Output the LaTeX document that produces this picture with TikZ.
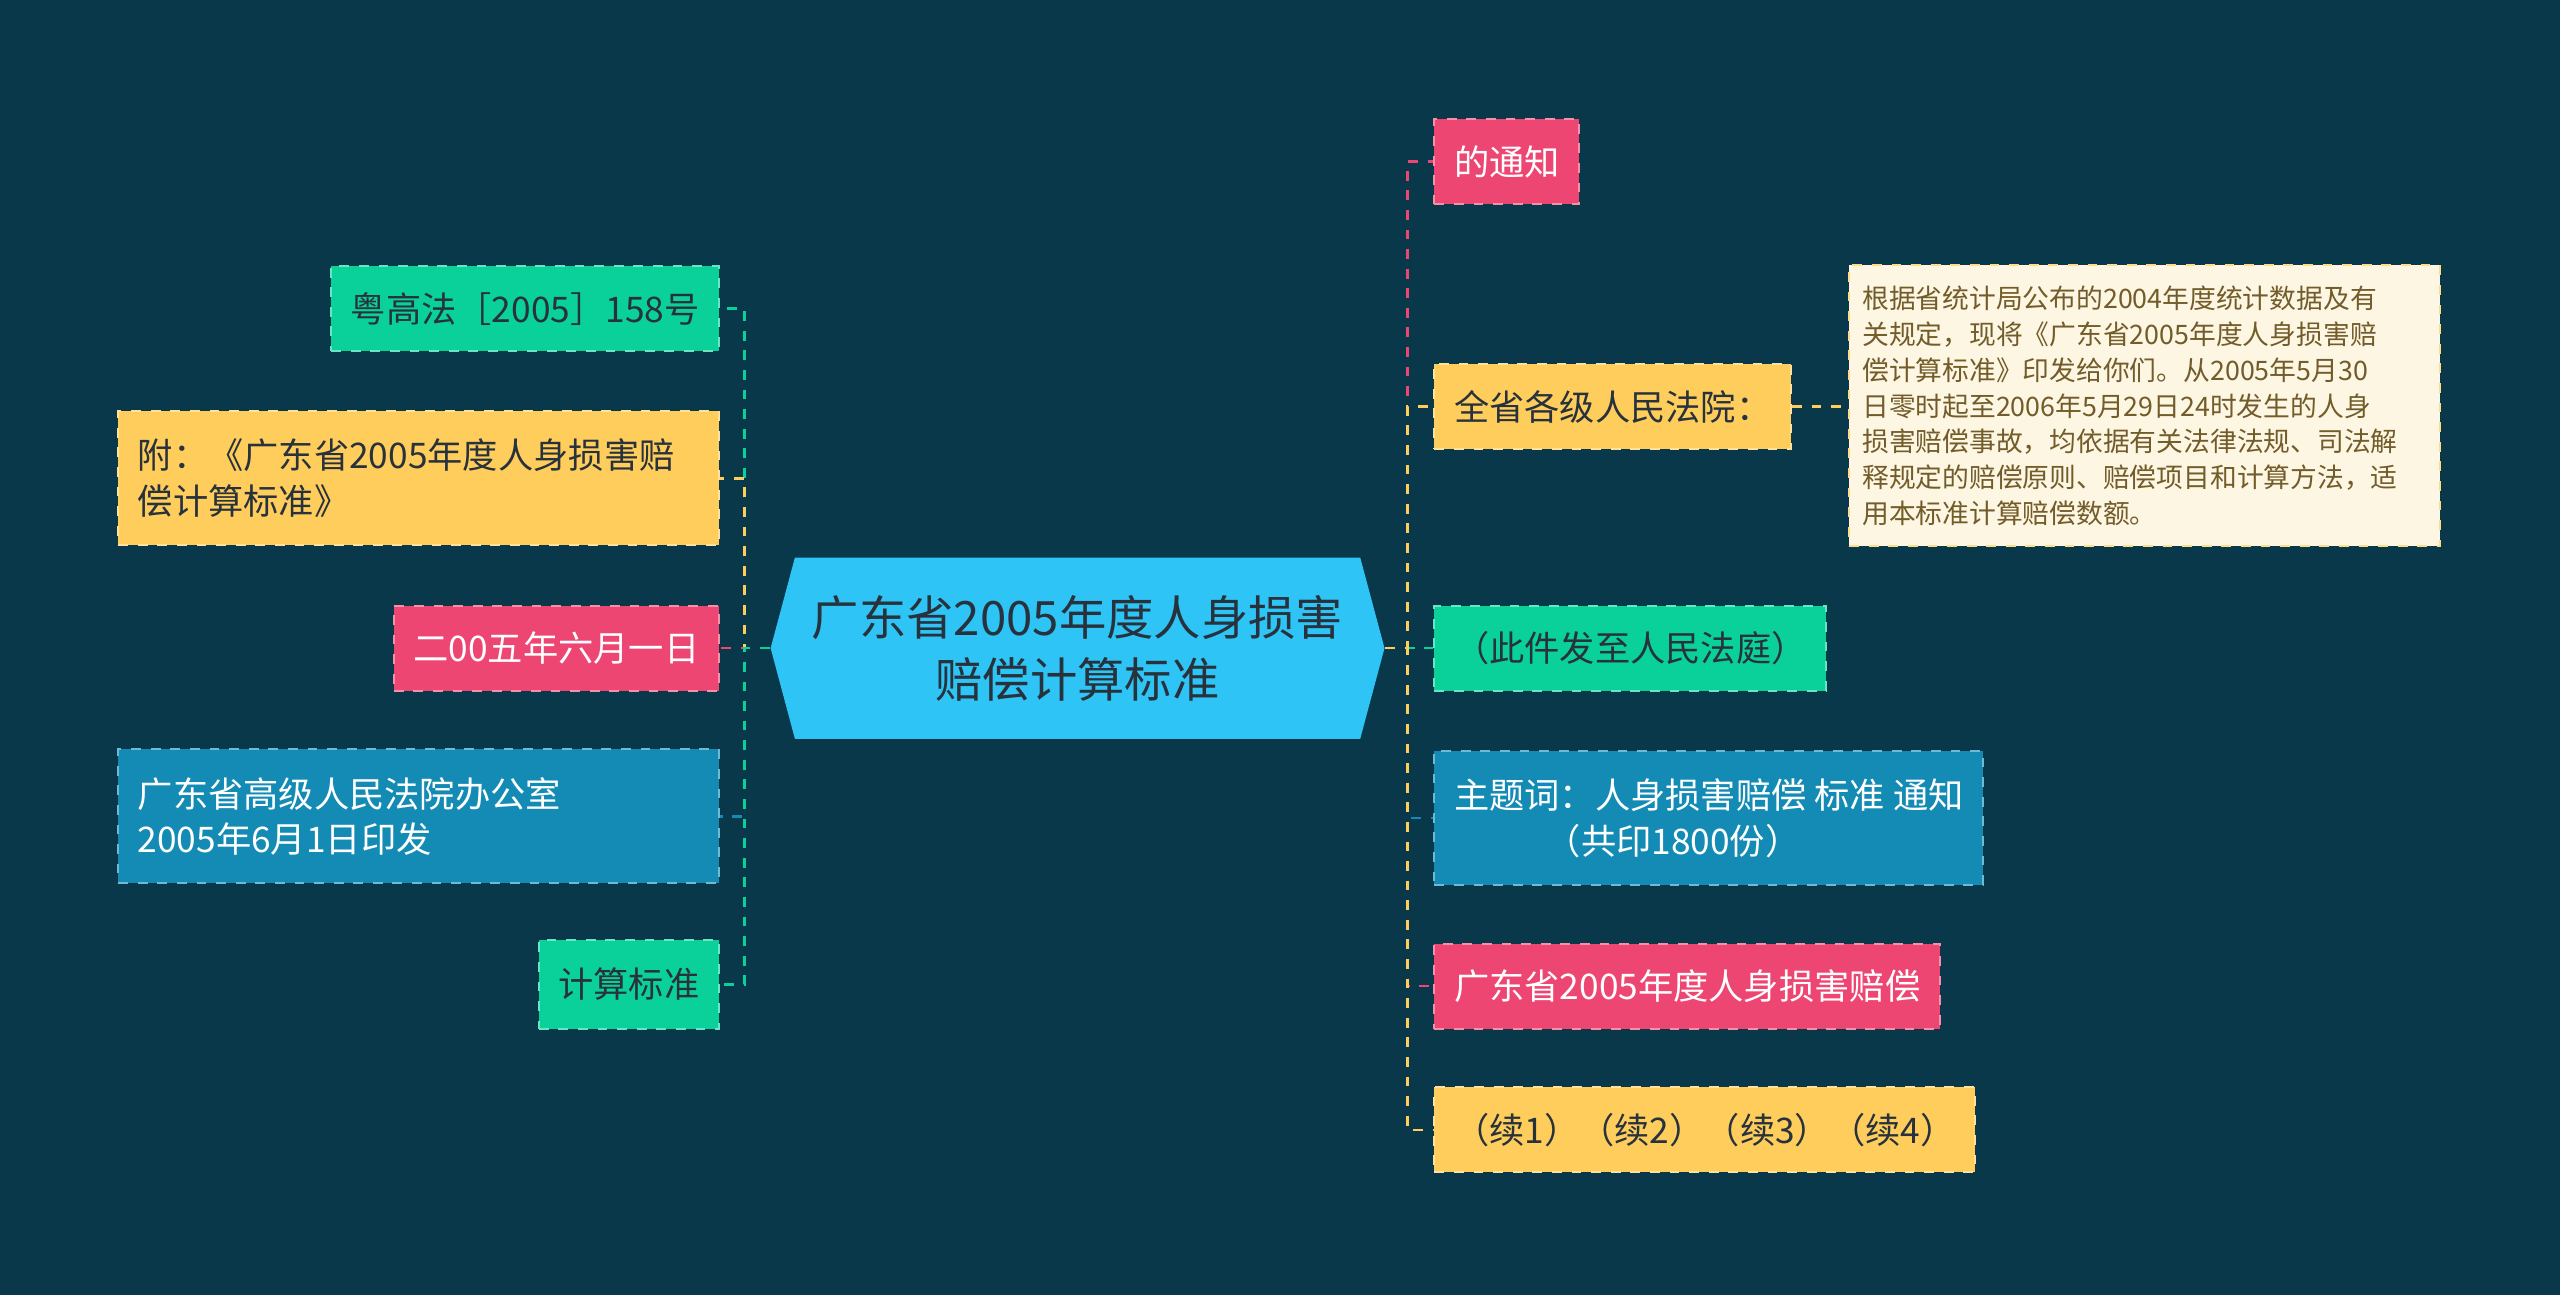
\documentclass[tikz,border=0pt]{standalone}
\usepackage{fontspec}
\setmainfont{Noto Sans CJK SC}
\usetikzlibrary{shapes.symbols}
\definecolor{bg}{RGB}{8,56,74}
\definecolor{cg}{RGB}{10,209,154}
\definecolor{cp}{RGB}{238,70,114}
\definecolor{cy}{RGB}{254,205,92}
\definecolor{cb}{RGB}{19,139,181}
\definecolor{cc}{RGB}{46,196,245}
\definecolor{cn}{RGB}{253,246,227}
\definecolor{tx}{RGB}{40,50,60}
\begin{document}
\begin{tikzpicture}[x=0.5pt,y=-0.5pt,
 box/.style={draw,dashed,line width=0.6pt,inner xsep=6pt,font=\fontsize{10.8}{14}\selectfont,align=left},
 gbox/.style={box,fill=cg,draw=cg!60!white,text=tx},
 pbox/.style={box,fill=cp,draw=cp!60!white,text=white},
 ybox/.style={box,fill=cy,draw=cy!60!white,text=tx},
 bbox/.style={box,fill=cb,draw=cb!60!white,text=white},
 lk/.style={dashed,line width=0.8pt}]
\fill[bg] (0,0) rectangle (1568,793);
\node[signal,signal to=west and east,signal pointer angle=150,fill=cc,text=tx,minimum width=376*0.5pt,minimum height=111*0.5pt,inner sep=2pt,align=center,font=\fontsize{14.5}{19}\selectfont] (c) at (660,397) {广东省2005年度人身损害\\赔偿计算标准};
% left
\node[gbox,anchor=east,minimum height=26pt] (l1) at (441,189) {粤高法［2005］158号};
\node[ybox,anchor=east,minimum height=41pt,text width=172pt] (l2) at (441,293) {附：《广东省2005年度人身损害赔\\偿计算标准》};
\node[pbox,anchor=east,minimum height=26pt] (l3) at (441,397) {二00五年六月一日};
\node[bbox,anchor=east,minimum height=41pt,text width=172pt] (l4) at (441,500) {广东省高级人民法院办公室\\2005年6月1日印发};
\node[gbox,anchor=east,minimum height=27pt] (l5) at (441,603) {计算标准};
% right
\node[pbox,anchor=west,minimum height=26pt] (r1) at (878,99) {的通知};
\node[ybox,anchor=west,minimum height=26pt] (r2) at (878,249) {全省各级人民法院：};
\node[gbox,anchor=west,minimum height=26pt] (r3) at (878,397) {（此件发至人民法庭）};
\node[bbox,anchor=west,minimum height=41pt] (r4) at (878,501) {主题词：人身损害赔偿 标准 通知\\\hspace*{2.6em}（共印1800份）};
\node[pbox,anchor=west,minimum height=26pt] (r5) at (878,604) {广东省2005年度人身损害赔偿};
\node[ybox,anchor=west,minimum height=26pt] (r6) at (878,692) {（续1）（续2）（续3）（续4）};
\node[box,fill=cn,draw=cy!70!white,text=cy!45!black,anchor=north west,font=\fontsize{8.2}{11}\selectfont,inner xsep=4pt,inner ysep=4pt,text width=173pt,minimum height=86pt] (n) at (1132,162) {根据省统计局公布的2004年度统计数据及有\\关规定，现将《广东省2005年度人身损害赔\\偿计算标准》印发给你们。从2005年5月30\\日零时起至2006年5月29日24时发生的人身\\损害赔偿事故，均依据有关法律法规、司法解\\释规定的赔偿原则、赔偿项目和计算方法，适\\用本标准计算赔偿数额。};
% links
\foreach \n/\col in {l1/cg,l2/cy,l3/cp,l4/cb,l5/cg}
 \draw[lk,\col] (c.west) -- (456,397) |- (\n.east);
\foreach \n/\col in {r1/cp,r2/cy,r3/cg,r4/cb,r5/cp,r6/cy}
 \draw[lk,\col] (c.east) -- (862,397) |- (\n.west);
\draw[lk,cy] (r2.east) -- (n.west |- r2.east);
\end{tikzpicture}
\end{document}
